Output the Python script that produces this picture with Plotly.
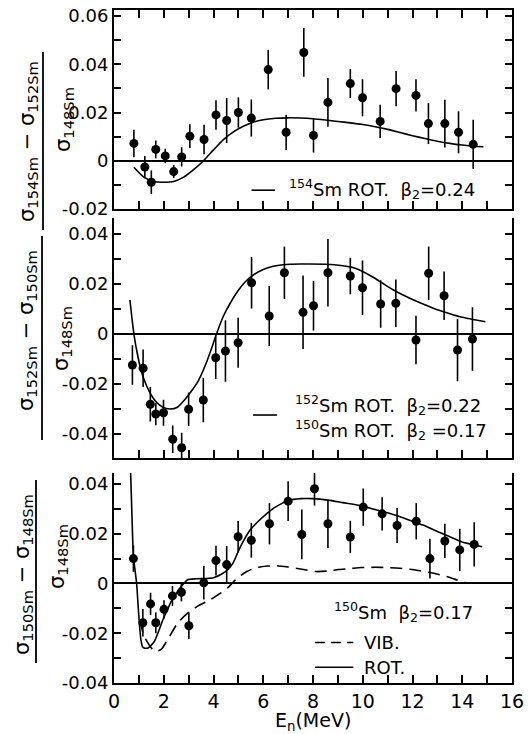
import plotly.graph_objects as go

# ---------------- data ----------------
# Panel 1: (σ154Sm − σ152Sm)/σ148Sm
e1 = [0.80, 1.24, 1.50, 1.68, 2.06, 2.40, 2.72, 3.05, 3.62, 4.10, 4.53, 5.00, 5.52, 6.20,
      6.92, 7.63, 8.02, 8.60, 9.50, 9.99, 10.70, 11.34, 12.14, 12.64, 13.30, 13.85, 14.44]
v1 = [0.0072, -0.0026, -0.0089, 0.0047, 0.0020, -0.0045, 0.0016, 0.0102, 0.0088, 0.0190,
      0.0167, 0.0200, 0.0177, 0.0378, 0.0118, 0.0449, 0.0105, 0.0242, 0.0320, 0.0261,
      0.0163, 0.0299, 0.0271, 0.0154, 0.0154, 0.0118, 0.0068]
err1 = [0.0057, 0.0046, 0.0049, 0.0037, 0.0030, 0.0027, 0.0040, 0.0049, 0.0061, 0.0061,
        0.0093, 0.0063, 0.0077, 0.0082, 0.0073, 0.0101, 0.0071, 0.0101, 0.0060, 0.0077,
        0.0069, 0.0073, 0.0067, 0.0085, 0.0099, 0.0087, 0.0102]
c1_e = [0.8, 1.2, 1.6, 2.0, 2.4, 2.8, 3.2, 3.6, 4.0, 4.4, 4.8, 5.2, 5.6, 6.0, 6.5, 7.0, 7.5,
        8.0, 8.5, 9.0, 9.5, 10.0, 10.5, 11.0, 11.5, 12.0, 12.5, 13.0, 13.5, 14.0, 14.5, 14.85]
c1_v = [-0.0027, -0.0068, -0.0086, -0.0089, -0.0086, -0.0068, -0.0037, 0.0000, 0.0045,
        0.0088, 0.0120, 0.0143, 0.0160, 0.0170, 0.0176, 0.0178, 0.0177, 0.0174, 0.0169,
        0.0163, 0.0157, 0.0150, 0.0141, 0.0130, 0.0117, 0.0104, 0.0092, 0.0081, 0.0072,
        0.0065, 0.0060, 0.0058]

# Panel 2: (σ152Sm − σ150Sm)/σ148Sm
e2 = [0.74, 1.17, 1.46, 1.68, 1.99, 2.36, 2.72, 3.00, 3.59, 4.09, 4.48, 4.99, 5.53, 6.24,
      6.85, 7.60, 8.02, 8.60, 9.50, 9.99, 10.72, 11.33, 12.14, 12.65, 13.27, 13.81, 14.41]
v2 = [-0.0124, -0.0137, -0.0281, -0.0320, -0.0315, -0.0421, -0.0455, -0.0301, -0.0264,
      -0.0095, -0.0068, -0.0035, 0.0205, 0.0072, 0.0245, 0.0087, 0.0113, 0.0245, 0.0232,
      0.0185, 0.0120, 0.0123, -0.0024, 0.0243, 0.0153, -0.0064, -0.0020]
err2 = [0.0079, 0.0075, 0.0069, 0.0045, 0.0052, 0.0055, 0.0060, 0.0067, 0.0089, 0.0085,
        0.0123, 0.0100, 0.0103, 0.0120, 0.0105, 0.0147, 0.0099, 0.0135, 0.0073, 0.0109,
        0.0095, 0.0095, 0.0097, 0.0107, 0.0097, 0.0125, 0.0127]
c2_e = [0.64, 0.72, 0.80, 0.95, 1.1, 1.3, 1.5, 1.7, 1.95, 2.25, 2.55, 2.85, 3.1, 3.4, 3.7,
        4.0, 4.12, 4.4, 4.7, 5.0, 5.3, 5.6, 6.0, 6.4, 6.8, 7.5, 8.5, 9.2, 9.6, 10.0, 10.4,
        10.8, 11.2, 11.6, 12.0, 12.5, 13.0, 13.5, 14.0, 14.5, 14.93]
c2_v = [0.0136, 0.0065, 0.0, -0.0085, -0.0150, -0.0205, -0.0245, -0.0272, -0.0292, -0.0300,
        -0.0293, -0.0262, -0.0230, -0.0185, -0.0118, -0.0035, 0.0, 0.0072, 0.0128, 0.0175,
        0.0211, 0.0236, 0.0258, 0.0271, 0.0277, 0.0280, 0.0279, 0.0273, 0.0266, 0.0250,
        0.0228, 0.0203, 0.0178, 0.0157, 0.0138, 0.0117, 0.0097, 0.0081, 0.0067, 0.0057,
        0.0049]

# Panel 3: (σ150Sm − σ148Sm)/σ148Sm
e3 = [0.78, 1.16, 1.47, 1.68, 2.01, 2.35, 2.71, 3.01, 3.61, 4.10, 4.53, 4.99, 5.52, 6.25,
      7.00, 7.55, 8.06, 8.60, 9.50, 10.02, 10.78, 11.38, 12.15, 12.70, 13.30, 13.90, 14.48]
v3 = [0.0100, -0.0158, -0.0082, -0.0158, -0.0104, -0.0050, -0.0035, -0.0170, 0.0003,
      0.0092, 0.0076, 0.0188, 0.0174, 0.0240, 0.0331, 0.0197, 0.0381, 0.0240, 0.0187,
      0.0307, 0.0280, 0.0233, 0.0250, 0.0100, 0.0171, 0.0135, 0.0157]
err3 = [0.0053, 0.0055, 0.0045, 0.0042, 0.0037, 0.0040, 0.0037, 0.0053, 0.0067, 0.0060,
        0.0075, 0.0063, 0.0070, 0.0083, 0.0080, 0.0100, 0.0068, 0.0097, 0.0065, 0.0075,
        0.0067, 0.0070, 0.0073, 0.0080, 0.0069, 0.0085, 0.0089]
rot3_e = [0.66, 0.72, 0.78, 0.85, 0.91, 0.97, 1.02, 1.08, 1.15, 1.25, 1.37, 1.5, 1.63, 1.8,
          1.97, 2.15, 2.3, 2.5, 2.7, 2.96, 3.3, 3.7, 4.0, 4.35, 4.6, 4.8, 5.0, 5.2, 5.47,
          5.8, 6.13, 6.5, 7.0, 7.5, 8.0, 8.6, 9.2, 9.9, 10.5, 11.0, 11.5, 12.0, 12.5, 13.0,
          13.5, 14.0, 14.5, 14.8]
rot3_v = [0.047, 0.028, 0.0108, 0.005, 0.0, -0.009, -0.016, -0.0225, -0.0255, -0.0260,
          -0.0259, -0.0248, -0.0232, -0.0190, -0.0145, -0.0105, -0.0072, -0.0040, -0.0012,
          0.0015, 0.0019, 0.0020, 0.0023, 0.0039, 0.0058, 0.0085, 0.0130, 0.0170, 0.0215,
          0.0250, 0.0280, 0.0308, 0.0333, 0.0341, 0.0341, 0.0335, 0.0325, 0.0313, 0.0297,
          0.0284, 0.0268, 0.0250, 0.0232, 0.0209, 0.0188, 0.0167, 0.0155, 0.0148]
vib3_e = [1.05, 1.2, 1.4, 1.55, 1.7, 1.9, 2.16, 2.56, 2.96, 3.35, 3.88, 4.28, 4.6, 4.81, 5.1,
          5.34, 5.63, 5.87, 6.16, 6.55, 7.0, 7.5, 8.1, 8.6, 9.03, 9.5, 9.95, 10.5, 11.0,
          11.5, 11.9, 12.3, 12.7, 13.1, 13.5, 13.8, 14.13]
vib3_v = [-0.015, -0.021, -0.0245, -0.0265, -0.0272, -0.0265, -0.0225, -0.0159, -0.0119,
          -0.0092, -0.0065, -0.0039, -0.0015, 0.0008, 0.0032, 0.0048, 0.0061, 0.0066, 0.0070,
          0.0071, 0.0066, 0.0058, 0.0048, 0.0050, 0.0056, 0.0060, 0.0064, 0.0065, 0.0064,
          0.0061, 0.0057, 0.0051, 0.0044, 0.0035, 0.0024, 0.0014, 0.0003]

# tick labels
x_ticks = list(range(0, 17))
x_ticktext = ["0", "", "2", "", "4", "", "6", "", "8", "", "10", "", "12", "", "14", "", "16"]
y1_ticks = [-0.02, -0.01, 0.0, 0.01, 0.02, 0.03, 0.04, 0.05, 0.06]
y1_text = ["-0.02", "", "0", "", "0.02", "", "0.04", "", "0.06"]
y2_ticks = [-0.04, -0.03, -0.02, -0.01, 0.0, 0.01, 0.02, 0.03, 0.04]
y2_text = ["-0.04", "", "-0.02", "", "0", "", "0.02", "", "0.04"]
y3_ticks = [-0.04, -0.03, -0.02, -0.01, 0.0, 0.01, 0.02, 0.03, 0.04]
y3_text = ["-0.04", "", "-0.02", "", "0", "", "0.02", "", "0.04"]

# ---------------- figure ----------------
FONT = "DejaVu Sans"
BLK = "black"
fig = go.Figure()

def add_panel(xa, ya, ex, vy, ey):
    fig.add_trace(go.Scatter(
        x=ex, y=vy, mode="markers", xaxis=xa, yaxis=ya,
        marker=dict(size=9, color=BLK),
        error_y=dict(type="data", array=ey, visible=True, thickness=1.6, width=0, color=BLK),
        showlegend=False, cliponaxis=False))

def add_curve(xa, ya, ex, vy, dash="solid"):
    fig.add_trace(go.Scatter(
        x=ex, y=vy, mode="lines", xaxis=xa, yaxis=ya,
        line=dict(color=BLK, width=1.6, dash=dash, shape="spline", smoothing=0.6),
        showlegend=False))

add_curve("x", "y", c1_e, c1_v)
add_panel("x", "y", e1, v1, err1)
add_curve("x2", "y2", c2_e, c2_v)
add_panel("x2", "y2", e2, v2, err2)
add_curve("x3", "y3", rot3_e, rot3_v)
add_curve("x3", "y3", vib3_e, vib3_v, dash="12px,7px")
add_panel("x3", "y3", e3, v3, err3)

common_x = dict(range=[0, 16], showline=True, linecolor=BLK, linewidth=2, ticks="inside",
                ticklen=8, tickwidth=1.5, tickcolor=BLK, tickvals=x_ticks, ticktext=x_ticktext,
                showgrid=False, zeroline=False, fixedrange=True, automargin=False,
                ticklabeloverflow="allow")
common_y = dict(showline=True, linecolor=BLK, linewidth=2, mirror="ticks", ticks="inside",
                ticklen=7, tickwidth=1.5, tickcolor=BLK, showgrid=False, zeroline=True,
                zerolinecolor=BLK, zerolinewidth=1.6, automargin=False,
                ticklabeloverflow="allow",
                tickfont=dict(family=FONT, size=18, color=BLK), fixedrange=True)

# the page adds an 8px body margin: figure sized/placed so the plot lands where the reference has it
fig.update_layout(
    width=524, height=726,
    margin=dict(l=106, r=20, t=2, b=51),
    paper_bgcolor="white", plot_bgcolor="white",
    showlegend=False,
    xaxis=dict(**common_x, anchor="y", domain=[0, 1], mirror="ticks", showticklabels=False),
    yaxis=dict(**common_y, anchor="x", domain=[0.7043, 1.0], range=[-0.02, 0.0625],
               tickvals=y1_ticks, ticktext=y1_text),
    xaxis2=dict(**common_x, anchor="y2", domain=[0, 1], showticklabels=False),
    yaxis2=dict(**common_y, anchor="x2", domain=[0.3343, 0.6909], range=[-0.0496, 0.0464],
                tickvals=y2_ticks, ticktext=y2_text),
    xaxis3=dict(**common_x, anchor="y3", domain=[0, 1],
                tickfont=dict(family=FONT, size=19, color=BLK)),
    yaxis3=dict(**common_y, anchor="x3", domain=[0, 0.3120], range=[-0.04, 0.0444],
                tickvals=y3_ticks, ticktext=y3_text),
)

annotations = []
shapes = []

# x-axis title
annotations.append(dict(xref="paper", yref="paper", x=0.5, y=-0.0575, text="E<sub>n</sub>(MeV)",
                        showarrow=False, xanchor="center", yanchor="middle",
                        font=dict(family=FONT, size=19, color=BLK)))

def ylab(xp, yp, text, size=21):
    annotations.append(dict(xref="paper", yref="paper", x=xp, y=yp, text=text,
                            textangle=-90, showarrow=False, xanchor="center", yanchor="middle",
                            font=dict(family=FONT, size=size, color=BLK)))

def vline(xp, y0, y1):
    shapes.append(dict(type="line", xref="paper", yref="paper", x0=xp, x1=xp, y0=y0, y1=y1,
                       line=dict(color=BLK, width=1.8)))

# y-axis fraction titles
ylab(-0.2161, 0.8053, "σ<sub>154Sm</sub> − σ<sub>152Sm</sub>")
vline(-0.1784, 0.6731, 0.9376)
ylab(-0.1256, 0.8366, "σ<sub>148Sm</sub>")

ylab(-0.2186, 0.5245, "σ<sub>152Sm</sub> − σ<sub>150Sm</sub>")
vline(-0.1809, 0.3611, 0.6642)
ylab(-0.1307, 0.5126, "σ<sub>148Sm</sub>")

ylab(-0.2286, 0.1605, "σ<sub>150Sm</sub> − σ<sub>148Sm</sub>")
vline(-0.1960, 0.0297, 0.3016)
ylab(-0.1407, 0.1872, "σ<sub>148Sm</sub>")

def dtext(xa, ya, x, y, text):
    annotations.append(dict(xref=xa, yref=ya, x=x, y=y, text=text, showarrow=False,
                            xanchor="left", yanchor="middle",
                            font=dict(family=FONT, size=18, color=BLK)))

def dline(xa, ya, x0, x1, y, dash="solid"):
    shapes.append(dict(type="line", xref=xa, yref=ya, x0=x0, x1=x1, y0=y, y1=y,
                       line=dict(color=BLK, width=1.6, dash=dash)))

# in-panel keys
dline("x", "y", 5.53, 6.47, -0.0122)
dtext("x", "y", 6.95, -0.0118, "<sup>154</sup>Sm ROT.  β<sub>2</sub>=0.24")

dline("x2", "y2", 5.59, 6.55, -0.0324)
dtext("x2", "y2", 7.2, -0.0284, "<sup>152</sup>Sm ROT.  β<sub>2</sub>=0.22")
dtext("x2", "y2", 7.2, -0.0384, "<sup>150</sup>Sm ROT.  β<sub>2</sub> =0.17")

dtext("x3", "y3", 8.75, -0.0116, "<sup>150</sup>Sm  β<sub>2</sub>=0.17")
dline("x3", "y3", 8.08, 9.62, -0.0237, dash="10px,6px")
dtext("x3", "y3", 9.96, -0.0237, "VIB.")
dline("x3", "y3", 8.08, 9.62, -0.0337)
dtext("x3", "y3", 9.96, -0.0337, "ROT.")

fig.update_layout(annotations=annotations, shapes=shapes)

fig.write_html("out.html")
